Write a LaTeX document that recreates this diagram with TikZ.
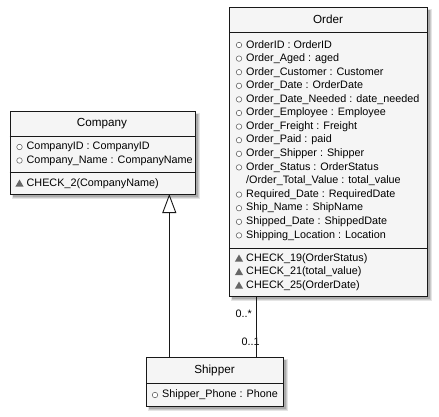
\documentclass[tikz,border=0pt]{standalone}
\usepackage{fontspec}
\setmainfont{Liberation Sans}
\usetikzlibrary{arrows.meta,shapes.geometric}
\definecolor{boxfill}{HTML}{F5F5F5}
\definecolor{boxline}{HTML}{181818}
\definecolor{iconcol}{HTML}{666666}
\tikzset{
  classbox/.style={draw=boxline, fill=boxfill, line width=1pt, rectangle, inner sep=0pt, anchor=north west},
  sepline/.style={draw=boxline, line width=1pt},
  titletext/.style={font=\fontsize{11.7}{13}\selectfont, inner sep=0pt},
  rowtext/.style={font=\fontsize{10.8}{12}\selectfont, inner sep=0pt, anchor=west},
  multtext/.style={font=\fontsize{10.8}{12}\selectfont, inner sep=0pt},
  attricon/.style={draw=iconcol, line width=0.6pt, fill=white, circle, inner sep=0pt, minimum size=5.5pt},
  methicon/.style={regular polygon, regular polygon sides=3, fill=iconcol, inner sep=0pt, minimum size=9.5pt},
  connector/.style={draw=boxline, line width=0.9pt},
}
\newcommand{\boxshadow}[4]{%
  \fill[black, opacity=0.10] (#1+2,#2+2) rectangle (#3+5,#4+5);
  \fill[black, opacity=0.12] (#1+3,#2+3) rectangle (#3+4,#4+4);
  \fill[black, opacity=0.15] (#1+3,#2+3) rectangle (#3+3,#4+3);
}
\begin{document}
\begin{tikzpicture}[x=1pt,y=-1pt]
\useasboundingbox[fill=white] (0,0) rectangle (439,416);

% ---------- Order ----------
\boxshadow{229}{7}{427}{296}
\node[classbox, minimum width=198pt, minimum height=289pt] (order) at (229,7) {};
\draw[sepline] (229,32) -- (427,32);
\draw[sepline] (229,248) -- (427,248);
\node[titletext] (ordertitle) at (328,19.5) {Order};
\foreach \t [count=\i from 0] in {OrderID : OrderID, Order\_Aged : aged, Order\_Customer : Customer, Order\_Date : OrderDate, Order\_Date\_Needed : date\_needed, Order\_Employee : Employee, Order\_Freight : Freight, Order\_Paid : paid, Order\_Shipper : Shipper, Order\_Status : OrderStatus, /Order\_Total\_Value : total\_value, Required\_Date : RequiredDate, Ship\_Name : ShipName, Shipped\_Date : ShippedDate, Shipping\_Location : Location}
  \node[rowtext] (oa\i) at (246, 45+13.6*\i) {\t};
\foreach \i in {0,...,9,11,12,13,14}
  \node[attricon] (oc\i) at (239, 45+13.6*\i) {};
\foreach \t [count=\i from 0] in {CHECK\_19(OrderStatus), CHECK\_21(total\_value), CHECK\_25(OrderDate)}
  {\node[rowtext] (om\i) at (246, 258.5+13.5*\i) {\t};
   \node[methicon] (omi\i) at (239, 259.3+13.5*\i) {};}

% ---------- Company ----------
\boxshadow{9.5}{111}{194.5}{194}
\node[classbox, minimum width=185pt, minimum height=83pt] (company) at (9.5,111) {};
\draw[sepline] (9.5,136) -- (194.5,136);
\draw[sepline] (9.5,172) -- (194.5,172);
\node[titletext] (companytitle) at (102,123.5) {Company};
\node[rowtext] (ca0) at (26.5,147) {CompanyID : CompanyID};
\node[rowtext] (ca1) at (26.5,160.5) {Company\_Name : CompanyName};
\node[attricon] (cc0) at (19.5,147) {};
\node[attricon] (cc1) at (19.5,160.5) {};
\node[rowtext] (cm0) at (26.5,183.5) {CHECK\_2(CompanyName)};
\node[methicon] (cmi0) at (19.5,184.3) {};

% ---------- Shipper ----------
\boxshadow{146}{357}{283}{406}
\node[classbox, minimum width=137pt, minimum height=49pt] (shipper) at (146,357) {};
\draw[sepline] (146,383.5) -- (283,383.5);
\node[titletext] (shippertitle) at (214.5,370) {Shipper};
\node[rowtext] (sa0) at (162,395) {Shipper\_Phone : Phone};
\node[attricon] (sc0) at (155,395) {};

% ---------- connectors ----------
\coordinate (inhfrom) at (169.3,357);
\coordinate (inhto) at (169.3,194);
\draw[connector, -{Triangle[width=14pt, length=19pt, fill=white, line width=0.9pt]}] (inhfrom) -- (inhto);

\coordinate (assocfrom) at (256,296);
\coordinate (assocto) at (256,357);
\node[multtext, anchor=east] (mult1) at (252,314) {0..*};
\node[multtext, anchor=west] (mult2) at (241.5,342) {0..1};
\draw[connector] (assocfrom) -- (assocto);
\end{tikzpicture}
\end{document}
